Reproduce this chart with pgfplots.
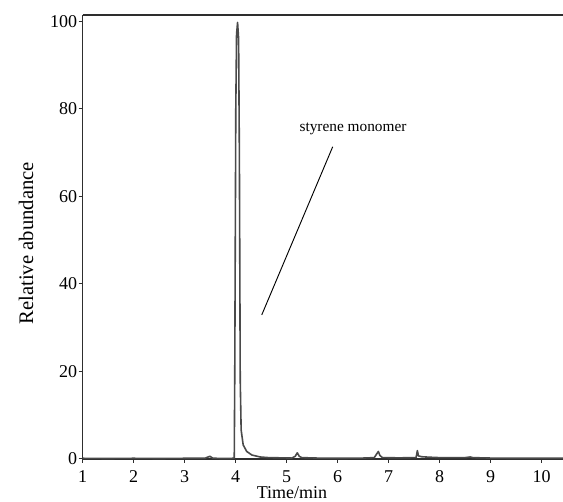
\documentclass[border=0pt]{standalone}
\usepackage{fontspec}
\setmainfont{Liberation Serif}
\usepackage{pgfplots}
\pgfplotsset{compat=1.18}

\definecolor{axisgray}{HTML}{2E2E2E}
\definecolor{tracegray}{HTML}{4A4A4A}

\begin{document}
\begin{tikzpicture}
\begin{axis}[
    name=ax,
    scale only axis,
    width=360.4pt, height=333pt,
    xmin=1, xmax=10.42,
    ymin=0, ymax=101.4,
    axis x line=box, axis y line=left,
    axis line style={-, line width=1.1pt, axisgray},
    xtick={1,2,...,10}, ytick={0,20,...,100},
    xtick pos=bottom, ytick pos=left,
    tick align=outside,
    major tick length=3pt,
    every tick/.style={axisgray, line width=0.8pt},
    font=\fontsize{13.5}{16}\selectfont,
    /pgf/number format/assume math mode=true,
    x tick label style={yshift=-2.5pt},
    y tick label style={xshift=2.4pt},
    xlabel={Time/min},
    ylabel={Relative abundance},
    x label style={at={(axis description cs:0.436,0)}, anchor=base, yshift=-30pt},
    y label style={at={(axis description cs:-0.103,0.486)}, anchor=base,
        font=\fontsize{15.5}{18}\selectfont},
    clip=false,
]
\addplot[tracegray, line width=1.2pt, line join=round] coordinates {
    (1.0,0.15) (1.5,0.1) (2.0,0.15) (2.5,0.1) (3.0,0.15) (3.4,0.15)
    (3.45,0.4) (3.5,0.6) (3.55,0.2) (3.7,0.1) (3.9,0.1) (3.975,0.2)
    (3.985,20) (3.995,50) (4.005,80) (4.02,97) (4.04,99.7) (4.06,96)
    (4.075,70) (4.085,40) (4.092,18) (4.11,6.6) (4.15,3.2) (4.22,1.7)
    (4.32,0.9) (4.48,0.45) (4.65,0.3) (4.9,0.25) (5.1,0.2) (5.17,0.6)
    (5.21,1.4) (5.25,0.6) (5.3,0.3) (5.6,0.2) (6.0,0.15) (6.5,0.2)
    (6.72,0.3) (6.77,1.2) (6.80,1.7) (6.83,0.8) (6.88,0.3) (7.2,0.25)
    (7.54,0.3) (7.565,1.9) (7.585,0.7) (7.65,0.5) (7.8,0.4) (8.0,0.3)
    (8.5,0.3) (8.6,0.45) (8.65,0.3) (9.0,0.2) (9.5,0.15) (10.0,0.15)
    (10.42,0.15)
};
\node[anchor=base west, inner sep=0pt, font=\fontsize{11.5}{14}\selectfont]
    at (axis cs:5.25,74.9) {styrene monomer};
\draw[black, line width=0.7pt] (axis cs:5.905,71.3) -- (axis cs:4.514,32.9);
\end{axis}
\pgfresetboundingbox
\path[use as bounding box] ([xshift=-61.9pt, yshift=-32.25pt]ax.south west)
    rectangle ([yshift=11.25pt]ax.north east);
\end{tikzpicture}
\end{document}
